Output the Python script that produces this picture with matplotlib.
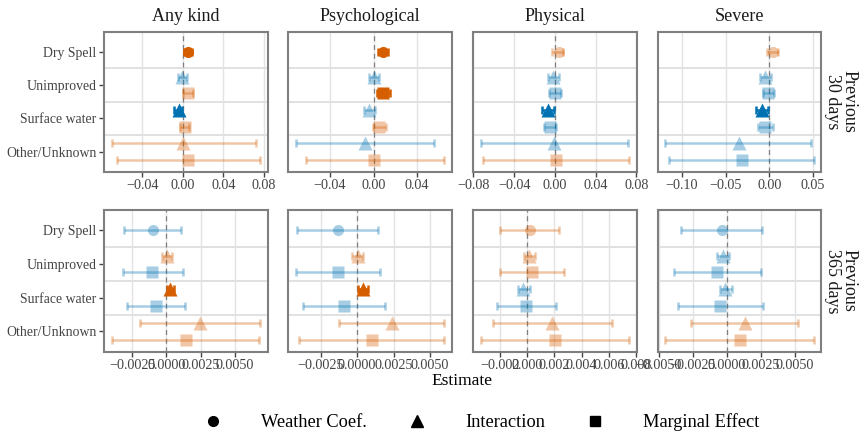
import matplotlib
matplotlib.use('Agg')
import matplotlib.pyplot as plt
from matplotlib.ticker import MultipleLocator, FuncFormatter
from matplotlib.lines import Line2D

plt.rcParams['font.family'] = ['Liberation Serif', 'DejaVu Serif']

outcomes = ['Any kind', 'Psychological', 'Physical', 'Severe']
periods = ['Previous\n30 days', 'Previous\n365 days']
sources = ['Dry Spell', 'Unimproved', 'Surface water', 'Other/Unknown']
terms = ['Weather Coef.', 'Interaction', 'Marginal Effect']

# item order in each panel
item_source = [0, 1, 1, 2, 2, 3, 3]
item_term = [0, 1, 2, 1, 2, 1, 2]

# Previous 30 days: per outcome, 7 items
est_30 = [
    [0.0049, -0.0007, 0.0050, -0.0040, 0.0022, 0.0006, 0.0055],
    [0.0088, 0.0000, 0.0088, -0.0045, 0.0052, -0.0075, 0.0006],
    [0.0036, -0.0020, -0.0002, -0.0068, -0.0052, -0.0010, 0.0007],
    [0.0040, -0.0049, -0.0011, -0.0087, -0.0049, -0.0352, -0.0310],
]
lo_30 = [
    [0.0013, -0.0049, -0.0002, -0.0085, -0.0026, -0.0700, -0.0644],
    [0.0040, -0.0045, 0.0027, -0.0091, -0.0006, -0.0715, -0.0624],
    [-0.0030, -0.0068, -0.0055, -0.0130, -0.0107, -0.0728, -0.0708],
    [-0.0023, -0.0106, -0.0068, -0.0152, -0.0125, -0.1193, -0.1144],
]
hi_30 = [
    [0.0094, 0.0042, 0.0100, -0.0003, 0.0065, 0.0722, 0.0764],
    [0.0136, 0.0052, 0.0149, 0.0015, 0.0113, 0.0558, 0.0649],
    [0.0078, 0.0039, 0.0062, -0.0010, 0.0007, 0.0719, 0.0732],
    [0.0102, 0.0019, 0.0057, -0.0019, 0.0038, 0.0481, 0.0508],
]

# Previous 365 days
est_365 = [
    [-0.00101, 0.00005, -0.00104, 0.00029, -0.00075, 0.00246, 0.00143],
    [-0.00129, 0.00003, -0.00129, 0.00039, -0.00090, 0.00236, 0.00100],
    [0.00020, 0.00015, 0.00037, -0.00029, -0.00005, 0.00182, 0.00202],
    [-0.00036, -0.00029, -0.00073, -0.00010, -0.00049, 0.00136, 0.00097],
]
lo_365 = [
    [-0.00310, -0.00030, -0.00320, 0.00003, -0.00285, -0.00196, -0.00400],
    [-0.00412, -0.00032, -0.00421, 0.00007, -0.00371, -0.00127, -0.00396],
    [-0.00200, -0.00024, -0.00200, -0.00066, -0.00224, -0.00248, -0.00340],
    [-0.00340, -0.00073, -0.00389, -0.00053, -0.00357, -0.00262, -0.00454],
]
hi_365 = [
    [0.00106, 0.00039, 0.00121, 0.00056, 0.00133, 0.00688, 0.00681],
    [0.00145, 0.00038, 0.00159, 0.00077, 0.00193, 0.00594, 0.00598],
    [0.00234, 0.00056, 0.00270, 0.00020, 0.00214, 0.00620, 0.00750],
    [0.00262, 0.00015, 0.00255, 0.00036, 0.00267, 0.00527, 0.00641],
]

tick_step = [[0.04, 0.04, 0.04, 0.05], [0.0025, 0.0025, 0.002, 0.0025]]
tick_dec = [[2, 2, 2, 2], [4, 4, 3, 4]]

ests = [est_30, est_365]
los = [lo_30, lo_365]
his = [hi_30, hi_365]

markers = ['o', '^', 's']
msizes = [8.0, 9.6, 8.2]
dodge = [0.0, -0.25, 0.25]
ORANGE = '#D55E00'
BLUE = '#0072B2'
TICKC = '#444444'

W, H = 861, 432
fig = plt.figure(figsize=(W / 100, H / 100), dpi=100)

lefts = [104.3, 288.3, 473.3, 657.7]
pw = 163.5
rows_px = [(31.7, 171.7), (210.0, 351.7)]


def make_fmt(d):
    def f(v, pos):
        v = round(v, d)
        if v == 0:
            v = 0.0
        return f"{v:.{d}f}".replace('-', '\u2212')
    return f


for r in range(2):
    top, bot = rows_px[r]
    for c in range(4):
        ax = fig.add_axes([lefts[c] / W, 1 - bot / H, pw / W, (bot - top) / H])
        ax.axvline(0, color='#7f7f7f', ls=(0, (4, 3)), lw=0.9, zorder=1)
        for i in range(7):
            e = ests[r][c][i]
            lo = los[r][c][i]
            hi = his[r][c][i]
            t = item_term[i]
            y = item_source[i] + 1 + dodge[t]
            col = ORANGE if e > 0 else BLUE
            sig = lo > 0 or hi < 0
            a = 1.0 if sig else 0.35
            ax.errorbar([e], [y], xerr=[[e - lo], [hi - e]], fmt='none',
                        ecolor=col, elinewidth=1.8, capsize=3.2, capthick=1.8,
                        alpha=a, zorder=3)
            ax.plot([e], [y], marker=markers[t], ms=msizes[t], color=col,
                    mec='none', alpha=a, ls='none', zorder=4)
        ax.set_ylim(4.6, 0.4)
        ax.set_yticks([1, 2, 3, 4])
        for yb in [1.5, 2.5, 3.5]:
            ax.axhline(yb, color='#dedede', lw=1.3, zorder=0)
        ax.xaxis.set_major_locator(MultipleLocator(tick_step[r][c]))
        ax.xaxis.set_major_formatter(FuncFormatter(make_fmt(tick_dec[r][c])))
        ax.margins(x=0.05)
        ax.grid(axis='x', color='#e3e3e3', lw=1.0, zorder=0)
        ax.set_axisbelow(True)
        if c == 0:
            ax.set_yticklabels(sources)
        else:
            ax.set_yticklabels([])
        ax.tick_params(axis='x', colors=TICKC, labelsize=10.2, length=3.5,
                       width=1.0, pad=2)
        ax.tick_params(axis='y', colors=TICKC, labelsize=9.9, length=3.5,
                       width=1.0, pad=2)
        if c != 0:
            ax.tick_params(axis='y', length=0)
        for sp in ax.spines.values():
            sp.set_color('#7f7f7f')
            sp.set_linewidth(1.5)
        if r == 0:
            ax.text(0.5, 1 + (top - 16.5) / (bot - top), outcomes[c],
                    transform=ax.transAxes, ha='center', va='center',
                    fontsize=13, color='#1a1a1a')
    fig.text(841 / W, 1 - ((top + bot) / 2) / H, periods[r], rotation=270,
             ha='center', va='center', fontsize=13, color='#1a1a1a',
             linespacing=0.95)

fig.text(462 / W, 1 - 381 / H, 'Estimate', ha='center', va='center',
         fontsize=12.5, color='black')

handles = [Line2D([], [], marker=m, ls='none', color='black', ms=s)
           for m, s in zip(markers, [7, 8.5, 7])]
fig.legend(handles, terms, loc='center', bbox_to_anchor=(477 / W, 1 - 422 / H),
           ncol=3, frameon=False, fontsize=13.2, handlelength=2.0,
           handletextpad=1.6, columnspacing=1.75)

fig.savefig('out.png', dpi=100)
